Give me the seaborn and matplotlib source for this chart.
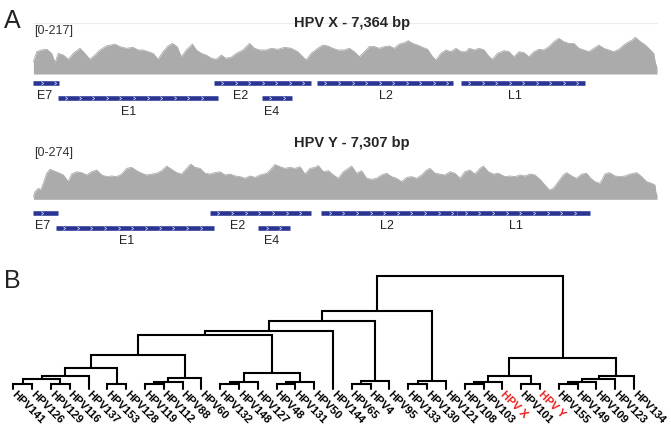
import matplotlib
matplotlib.use("Agg")
import matplotlib.pyplot as plt
import numpy as np
import seaborn as sns
from matplotlib.path import Path
from matplotlib.transforms import offset_copy

# ---- panel A: coverage tracks (bp, read depth) ----
x_len = 7364
x_max = 217
x_pos = [0, 39, 98, 157, 215, 255, 294, 353, 412, 471, 549, 608, 667, 726, 785, 863, 962, 1020,
         1099, 1177, 1236, 1295, 1354, 1413, 1472, 1531, 1590, 1641, 1696, 1747, 1806, 1877, 1924,
         1983, 2042, 2101, 2160, 2219, 2270, 2337, 2396, 2474, 2552, 2611, 2670, 2749, 2808, 2886,
         2965, 3043, 3122, 3181, 3221, 3280, 3358, 3417, 3476, 3535, 3594, 3672, 3731, 3790, 3849,
         3908, 3967, 4026, 4085, 4144, 4203, 4261, 4320, 4379, 4427, 4478, 4537, 4596, 4655, 4714,
         4753, 4812, 4871, 4930, 4989, 5048, 5107, 5146, 5205, 5264, 5323, 5382, 5421, 5480, 5557,
         5616, 5675, 5734, 5793, 5852, 5911, 5970, 6028, 6087, 6146, 6205, 6264, 6323, 6382, 6441,
         6500, 6559, 6618, 6677, 6736, 6795, 6854, 6913, 6972, 7011, 7070, 7109, 7168, 7227, 7286,
         7325, 7345, 7364]
x_cov = [73, 132, 142, 146, 122, 67, 122, 112, 87, 122, 152, 122, 87, 112, 142, 166, 177, 162,
         152, 158, 142, 142, 132, 122, 87, 132, 166, 181, 162, 102, 142, 177, 142,
         122, 112, 93, 87, 112, 93, 99, 122, 142, 181, 152, 142, 142, 152, 146,
         158, 152, 132, 102, 83, 122, 152, 171, 166, 152, 142, 142, 152, 132, 102,
         132, 162, 162, 152, 162, 166, 152, 177, 185, 197, 181, 171, 158, 146, 102,
         83, 122, 142, 132, 152, 132, 132, 152, 142, 152, 142, 102, 87, 122, 138,
         132, 102, 132, 126, 102, 132, 146, 142, 162, 191, 211, 191, 181, 181, 152,
         142, 132, 152, 171, 152, 142, 132, 146, 171, 185, 201, 217, 191, 171, 142,
         122, 63, 40]

y_len = 7307
y_max = 274
y_pos = [0, 19, 58, 85, 116, 155, 194, 234, 292, 351, 409, 448, 507, 565, 624, 683, 741, 800,
         858, 917, 976, 1034, 1093, 1151, 1210, 1269, 1327, 1386, 1444, 1503, 1561, 1620, 1679,
         1737, 1796, 1843, 1893, 1952, 2011, 2069, 2128, 2186, 2245, 2304, 2362, 2421, 2479, 2538,
         2597, 2655, 2733, 2772, 2831, 2889, 2948, 3006, 3065, 3124, 3182, 3241, 3299, 3338, 3397,
         3455, 3514, 3572, 3631, 3690, 3729, 3787, 3846, 3904, 3963, 4021, 4080, 4139, 4197, 4256,
         4314, 4373, 4431, 4490, 4549, 4607, 4646, 4705, 4763, 4822, 4880, 4939, 4998, 5056, 5115,
         5173, 5232, 5271, 5330, 5389, 5447, 5526, 5584, 5643, 5701, 5760, 5818, 5877, 5936, 5994,
         6045, 6092, 6150, 6209, 6248, 6307, 6365, 6424, 6482, 6529, 6580, 6639, 6697, 6748, 6814,
         6873, 6932, 6990, 7068, 7127, 7185, 7244, 7283, 7295, 7307]
y_cov = [20, 59, 85, 72, 124, 202, 233, 222, 207, 189, 137, 196, 214, 207, 189, 214, 227, 189,
         176, 181, 176, 196, 240, 248, 222, 202, 189, 196, 202, 222, 258, 233, 207,
         196, 240, 274, 248, 240, 202, 196, 207, 214, 189, 196, 181, 176, 163, 181,
         170, 189, 202, 227, 270, 253, 240, 248, 240, 253, 196, 240, 248, 262, 214,
         222, 189, 163, 214, 240, 258, 202, 222, 163, 155, 163, 189, 202, 176, 163,
         137, 170, 176, 163, 189, 227, 240, 202, 196, 189, 214, 202, 163, 214, 227,
         196, 240, 258, 214, 196, 202, 176, 181, 176, 189, 181, 196, 189, 155, 111,
         72, 85, 137, 189, 207, 181, 163, 196, 202, 163, 137, 124, 196, 207, 181,
         176, 181, 196, 207, 176, 137, 124, 111, 48, 40]

# genes: name, start, end (bp), row, label position (bp)
gene_names = ["E7", "E1", "E2", "E4", "L2", "L1"]
gene_rows = [0, 1, 0, 1, 0, 0]
x_gene_start = [0, 288, 2128, 2694, 3349, 5044]
x_gene_end = [303, 2179, 3278, 3050, 4953, 6517]
x_gene_label = [137, 1119, 2446, 2812, 4161, 5684]
y_gene_start = [0, 260, 2066, 2633, 3370, 4965]
y_gene_end = [286, 2116, 3255, 3009, 4965, 6519]
y_gene_label = [110, 1088, 2392, 2793, 4147, 5651]

# ---- panel B: dendrogram ----
leaf_names = ["HPV141", "HPV126", "HPV129", "HPV116", "HPV137", "HPV153", "HPV128", "HPV119",
              "HPV112", "HPV88", "HPV60", "HPV132", "HPV148", "HPV127", "HPV48", "HPV131",
              "HPV50", "HPV144", "HPV65", "HPV4", "HPV95", "HPV133", "HPV130", "HPV121",
              "HPV108", "HPV103", "HPV X", "HPV101", "HPV Y", "HPV155", "HPV149", "HPV109",
              "HPV123", "HPV134"]
highlight = ["HPV X", "HPV Y"]
# merge k creates node len(leaf_names)+k
merge_a = [0, 2, 34, 36, 5, 37, 7, 40, 41, 39, 11, 44, 14, 46, 45, 43, 49, 18, 51, 50, 21, 54, 53,
           24, 57, 27, 58, 29, 61, 62, 63, 60, 56]
merge_b = [1, 3, 35, 4, 6, 38, 8, 9, 10, 42, 12, 13, 15, 16, 47, 48, 17, 19, 20, 52, 22, 23, 55,
           25, 26, 28, 59, 30, 31, 32, 33, 64, 65]
merge_h = [0.044, 0.044, 0.090, 0.119, 0.044, 0.185, 0.044, 0.067, 0.100, 0.300, 0.044, 0.067,
           0.044, 0.067, 0.146, 0.477, 0.512, 0.044, 0.075, 0.600, 0.044, 0.075, 0.693,
           0.044, 0.067, 0.044, 0.119, 0.044, 0.067, 0.093, 0.119, 0.274, 1.0]

W, H = 671, 430
sns.set_theme(style="white")
plt.rcParams["font.family"] = ["Liberation Sans", "DejaVu Sans"]

fig = plt.figure(figsize=(W / 100, H / 100), dpi=100)


def rect(left, top, right, bottom):
    return [left / W, 1 - bottom / H, (right - left) / W, (bottom - top) / H]


def fy(y):
    return 1 - y / H


cov_color = "#ababab"
gene_color = "#2a3593"
chevron = Path([(-0.6, 1.0), (0.6, 0.0), (-0.6, -1.0)], [Path.MOVETO, Path.LINETO, Path.LINETO])


def coverage(top, bottom, pos, cov, length, vmax):
    ax = fig.add_axes(rect(33.4, top, 657, bottom))
    sns.lineplot(x=pos, y=cov, ax=ax, color=cov_color, lw=0.6)
    ax.fill_between(pos, cov, 0, color=cov_color, lw=0)
    ax.set_xlim(0, length)
    ax.set_ylim(0, vmax)
    ax.axis("off")


def genes(row0, starts, ends, labels, length):
    ax = fig.add_axes(rect(33.4, row0 - 5, 657, row0 + 35))
    ax.set_xlim(0, length)
    ax.set_ylim(2.333, -0.333)
    ax.axis("off")
    for name, r, s, e, lx in zip(gene_names, gene_rows, starts, ends, labels):
        ax.plot([s, e], [r, r], color=gene_color, lw=3.3, solid_capstyle="butt")
        ticks = np.arange(s + 100, e - 40, 160)
        ax.plot(ticks, [r] * len(ticks), ls="none", marker=chevron, ms=2.6,
                mfc="none", mec="#c9cdf0", mew=0.6)
        ax.text(lx, r + 0.88, name, ha="center", va="center", fontsize=9, color="#222222")


fig.text(4 / W, fy(28), "A", fontsize=18, ha="left", va="baseline", color="#222222")
fig.text(4 / W, fy(288), "B", fontsize=18, ha="left", va="baseline", color="#222222")

fig.add_artist(plt.Line2D([33.4 / W, 657 / W], [fy(23), fy(23)], color="#ececec", lw=0.8))
fig.text(352 / W, fy(22.5), "HPV X - 7,364 bp", ha="center", va="center",
         fontsize=10.5, fontweight="bold")
fig.text(34 / W, fy(31), "[0-217]", ha="left", va="center", fontsize=9, color="#333333")
coverage(37.3, 74, x_pos, x_cov, x_len, x_max)
genes(83.3, x_gene_start, x_gene_end, x_gene_label, x_len)

fig.text(352 / W, fy(143), "HPV Y - 7,307 bp", ha="center", va="center",
         fontsize=10.5, fontweight="bold")
fig.text(34 / W, fy(153), "[0-274]", ha="left", va="center", fontsize=9, color="#333333")
coverage(164, 199.3, y_pos, y_cov, y_len, y_max)
genes(212.7, y_gene_start, y_gene_end, y_gene_label, y_len)

# dendrogram
ax = fig.add_axes(rect(13.3, 276, 634, 389.3))
n = len(leaf_names)
node_x = list(range(n))
node_h = [0.0] * n
for a, b, h in zip(merge_a, merge_b, merge_h):
    ax.plot([node_x[a], node_x[a], node_x[b], node_x[b]], [node_h[a], h, h, node_h[b]],
            color="black", lw=1.5, clip_on=False, solid_joinstyle="miter")
    node_x.append((node_x[a] + node_x[b]) / 2)
    node_h.append(h)
ax.set_xlim(0, n - 1)
ax.set_ylim(0, 1)
ax.axis("off")

lab_tr = offset_copy(ax.transData, fig=fig, x=0, y=-3.5, units="dots")
for i, name in enumerate(leaf_names):
    ax.text(i, 0, name, transform=lab_tr, rotation=-45, rotation_mode="anchor",
            ha="left", va="center", fontsize=8, fontweight="bold",
            color="#ee1c1c" if name in highlight else "black")

fig.savefig("out.png", dpi=100)
